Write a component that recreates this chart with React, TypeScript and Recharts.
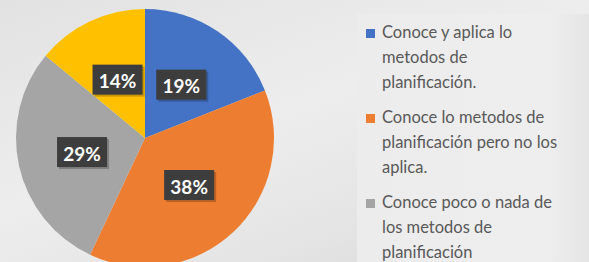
import { Cell, Legend, Pie, PieChart } from "recharts";

const categories = [
  "Conoce y aplica lo metodos de planificación.",
  "Conoce lo metodos de planificación pero no los aplica.",
  "Conoce poco o nada de los metodos de planificación",
  "No conoce los metodos de planificación.",
];
const values = [19, 38, 29, 14];
const COLORS = ["#4472c4", "#ed7d31", "#a5a5a5", "#ffc000"];

// only the first three legend entries are visible in the original
const LEGEND_SHOWN = 3;

const data = categories.map((name, i) => ({ name, value: values[i] }));

const RADIAN = Math.PI / 180;

// dark boxed percentage labels, placed halfway out on each slice
const renderLabel = (props: any) => {
  const { cx, cy, midAngle, outerRadius, value } = props;
  const r = outerRadius * 0.5;
  const x = cx + r * Math.cos(-midAngle * RADIAN);
  const y = cy + r * Math.sin(-midAngle * RADIAN);
  return (
    <g>
      <rect x={x - 23} y={y - 13} width={50} height={30} fill="rgba(0,0,0,0.22)" />
      <rect x={x - 25} y={y - 15} width={50} height={30} fill="#3d3d3d" />
      <text
        x={x}
        y={y + 1}
        fill="#ffffff"
        textAnchor="middle"
        dominantBaseline="central"
        fontFamily="Lato, sans-serif"
        fontWeight={700}
        fontSize={19}
      >
        {value}%
      </text>
    </g>
  );
};

const renderLegend = () => (
  <div style={{ fontFamily: "Lato, sans-serif", fontSize: 16.5, color: "#595959" }}>
    {categories.slice(0, LEGEND_SHOWN).map((name, i) => (
      <div key={name} style={{ display: "flex", marginBottom: 10, lineHeight: "25px" }}>
        <span
          style={{
            display: "inline-block",
            width: 9,
            height: 9,
            background: COLORS[i],
            marginTop: 9,
            marginRight: 7,
            flexShrink: 0,
          }}
        />
        <span style={{ width: 180 }}>{name}</span>
      </div>
    ))}
  </div>
);

export default function App() {
  return (
    <div
      style={{
        position: "absolute",
        top: 0,
        left: 0,
        width: 589,
        height: 262,
        overflow: "hidden",
        background: "linear-gradient(160deg, #e2e2e2 0%, #ededed 45%, #e4e4e4 75%, #d6d6d6 100%)",
      }}
    >
      <div
        style={{
          position: "absolute",
          left: 357,
          top: 14,
          width: 240,
          height: 260,
          background: "linear-gradient(90deg, #ececec 0%, #eeeeee 80%, #e3e3e3 100%)",
        }}
      />
      <PieChart
        width={589}
        height={262}
        margin={{ top: 0, right: 0, bottom: 0, left: 0 }}
        style={{ position: "absolute", top: 0, left: 0 }}
      >
        <Pie
          data={data}
          dataKey="value"
          nameKey="name"
          cx={145}
          cy={138}
          outerRadius={129}
          startAngle={90}
          endAngle={-270}
          stroke="none"
          label={renderLabel}
          labelLine={false}
          isAnimationActive={false}
        >
          {data.map((d, i) => (
            <Cell key={d.name} fill={COLORS[i]} />
          ))}
        </Pie>
        <Legend
          layout="vertical"
          align="right"
          verticalAlign="top"
          content={renderLegend}
          wrapperStyle={{ position: "absolute", left: 366, top: 20, width: 215 }}
        />
      </PieChart>
    </div>
  );
}
